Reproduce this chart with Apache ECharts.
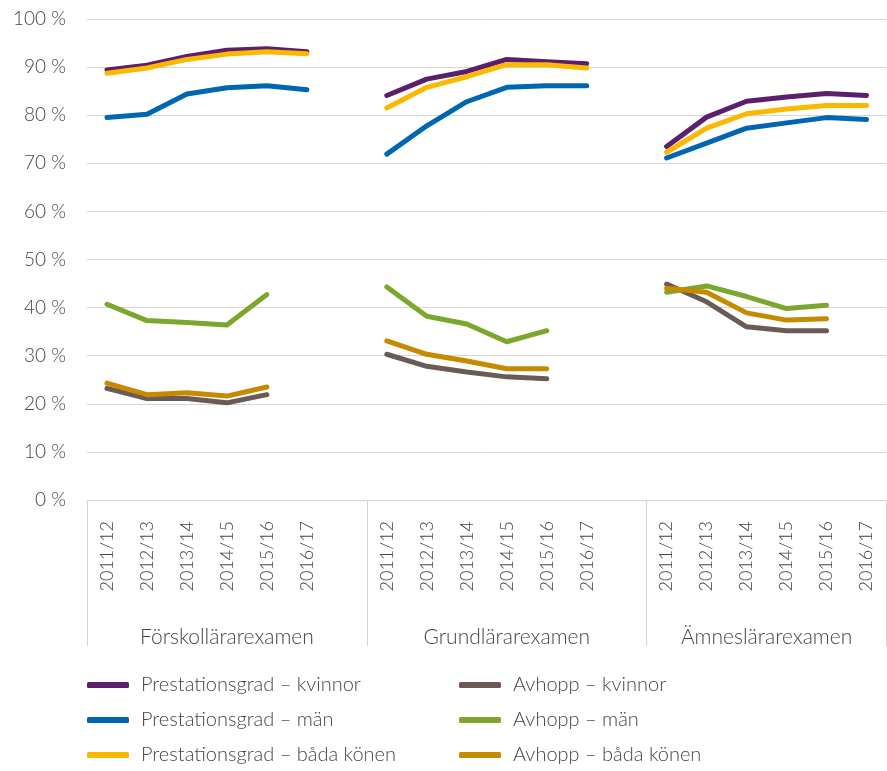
<!DOCTYPE html>
<html>
<head>
<meta charset="utf-8">
<script src="https://cdn.jsdelivr.net/npm/echarts@6/dist/echarts.min.js"></script>
<style>
html,body{margin:0;padding:0;background:#fff;overflow:hidden;}
#chart{width:887px;height:771px;}
</style>
</head>
<body>
<div id="chart"></div>
<script>
const years = ['2011/12','2012/13','2013/14','2014/15','2015/16','2016/17'];
const groups = ['Förskollärarexamen','Grundlärarexamen','Ämneslärarexamen'];
const yTicks = [0,10,20,30,40,50,60,70,80,90,100];

// values per series: 3 groups x 6 years (null = no value)
const prestKvinnor = [89.4,90.4,92.2,93.5,93.8,93.2, 84.1,87.5,89.1,91.6,91.1,90.7, 73.5,79.6,82.9,83.8,84.5,84.1];
const prestMan     = [79.5,80.2,84.4,85.7,86.1,85.3, 71.9,77.8,82.8,85.8,86.1,86.1, 71.1,74.2,77.3,78.4,79.5,79.1];
const prestBada    = [88.7,89.8,91.6,92.7,93.2,92.8, 81.5,85.8,88.0,90.5,90.5,89.8, 72.3,77.3,80.3,81.3,82.0,82.0];
const avhoppKvinnor= [23.2,21.1,21.1,20.2,21.9,null, 30.3,27.8,26.6,25.6,25.2,null, 44.9,41.2,36.0,35.2,35.2,null];
const avhoppMan    = [40.7,37.3,36.9,36.4,42.7,null, 44.3,38.2,36.6,32.9,35.2,null, 43.2,44.5,42.3,39.8,40.5,null];
const avhoppBada   = [24.3,21.9,22.3,21.6,23.5,null, 33.1,30.3,28.9,27.3,27.3,null, 44.0,43.2,38.9,37.4,37.7,null];

const seriesDefs = [
  {name:'Prestationsgrad – kvinnor', values: prestKvinnor, color:'#5c1f6b'},
  {name:'Prestationsgrad – män', values: prestMan, color:'#0066b2'},
  {name:'Prestationsgrad – båda könen', values: prestBada, color:'#fbb800'},
  {name:'Avhopp – kvinnor', values: avhoppKvinnor, color:'#6b5b56'},
  {name:'Avhopp – män', values: avhoppMan, color:'#7aa72c'},
  {name:'Avhopp – båda könen', values: avhoppBada, color:'#c68a00'}
];

// category slots: 6 years per group, one empty slot between groups
const slots = [];
groups.forEach((g, gi) => { years.forEach(y => slots.push(y)); if (gi < groups.length - 1) slots.push(''); });
const step = years.length + 1;
function toSlots(vals){
  const out = [];
  for (let g = 0; g < groups.length; g++) {
    for (let i = 0; i < years.length; i++) out.push(vals[g*years.length + i]);
    if (g < groups.length - 1) out.push(null);
  }
  return out;
}
// group label positions (centre of each group's band, in slot units)
const lastEdge = slots.length - 0.5;
const groupCenters = groups.map((g, gi) => {
  const a = gi*step - 0.5, b = Math.min(gi*step + step - 0.5, lastEdge);
  return (a + b) / 2;
});

const font = 'Lato, "Open Sans", sans-serif';
const txt = '#454545';

const legendBase = {
  orient: 'vertical', top: 675, height: 110, padding: 0, itemGap: 15,
  icon: 'roundRect', itemWidth: 42, itemHeight: 6,
  textStyle: {fontSize: 20, fontFamily: font, fontWeight: 300, color: txt, padding: [0,0,0,7]}
};

const chart = echarts.init(document.getElementById('chart'));
chart.setOption({
  animation: false,
  backgroundColor: '#fff',
  grid: {left: 87, right: 0.5, top: 19, bottom: 271, containLabel: false, outerBoundsMode: 'none'},
  xAxis: [
    {
      type: 'category', data: slots, boundaryGap: true, position: 'bottom',
      axisLine: {show: true, lineStyle: {color: '#d4d4d4', width: 1}},
      axisTick: {show: true, length: 146, interval: function(i){ return i % step === 0 || i >= slots.length; }, lineStyle: {color: '#d4d4d4', width: 1}},
      axisLabel: {interval: 0, rotate: 90, margin: 21, fontSize: 18, fontFamily: font, fontWeight: 300, color: txt},
      splitLine: {show: false}
    },
    {
      type: 'value', min: -0.5, max: lastEdge, interval: 0.5, position: 'bottom',
      axisLine: {show: false}, axisTick: {show: false}, splitLine: {show: false},
      axisLabel: {
        margin: 127, fontSize: 21, fontFamily: font, fontWeight: 300, color: txt,
        showMinLabel: true, showMaxLabel: true,
        formatter: function(v){ const i = groupCenters.findIndex(c => Math.abs(c - v) < 1e-6); return i >= 0 ? groups[i] : ''; }
      }
    }
  ],
  yAxis: {
    type: 'value', min: yTicks[0], max: yTicks[yTicks.length-1], interval: 10,
    axisLine: {show: false}, axisTick: {show: false},
    axisLabel: {margin: 21, fontSize: 19, fontFamily: font, fontWeight: 300, color: txt, formatter: '{value} %'},
    splitLine: {show: true, lineStyle: {color: '#d6d6d6', width: 1}}
  },
  legend: [
    Object.assign({}, legendBase, {data: seriesDefs.slice(0,3).map(s => s.name), left: 87}),
    Object.assign({}, legendBase, {data: seriesDefs.slice(3).map(s => s.name), left: 459})
  ],
  series: seriesDefs.map(s => ({
    name: s.name, type: 'line', xAxisIndex: 0, data: toSlots(s.values),
    symbol: 'none', connectNulls: false, color: s.color,
    lineStyle: {color: s.color, width: 5, cap: 'round', join: 'round'}
  }))
});
</script>
</body>
</html>
